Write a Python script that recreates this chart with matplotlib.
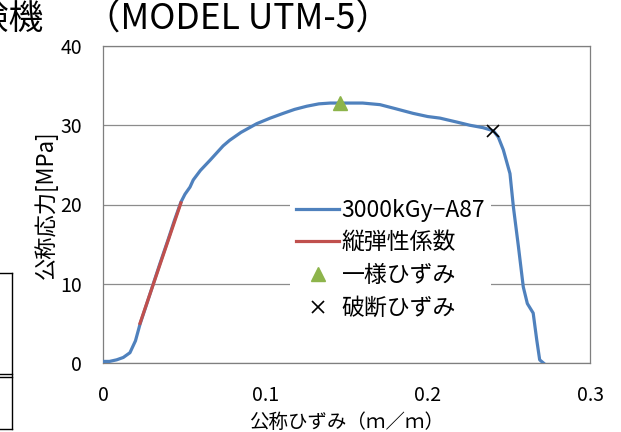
import matplotlib.pyplot as plt
from matplotlib.lines import Line2D

plt.rcParams['font.family'] = ['Noto Sans CJK JP', 'DejaVu Sans']

# nominal strain / nominal stress curve
strain = [0, 0.004, 0.0084, 0.0125, 0.0166, 0.020, 0.0228, 0.027, 0.031, 0.035,
          0.040, 0.044, 0.048, 0.0505, 0.0536, 0.0556, 0.060, 0.066, 0.070, 0.074,
          0.078, 0.085, 0.0947, 0.103, 0.111, 0.118, 0.1255, 0.133, 0.140, 0.146,
          0.152, 0.160, 0.1706, 0.180, 0.191, 0.200, 0.2076, 0.2117, 0.218, 0.226,
          0.234, 0.2405, 0.2435, 0.2466, 0.2507, 0.2528, 0.2559, 0.2589, 0.2614,
          0.265, 0.2672, 0.269, 0.2713]
stress = [0.2, 0.2, 0.4, 0.7, 1.3, 2.8, 4.9, 7.5, 10.0, 12.5,
          15.5, 18.0, 20.3, 21.3, 22.2, 23.1, 24.3, 25.6, 26.5, 27.4,
          28.1, 29.1, 30.2, 30.9, 31.5, 32.0, 32.4, 32.7, 32.8, 32.8,
          32.8, 32.8, 32.6, 32.1, 31.5, 31.1, 30.9, 30.7, 30.4, 30.0,
          29.7, 29.3, 28.5, 26.9, 23.9, 19.7, 14.7, 9.6, 7.5,
          6.3, 2.9, 0.4, 0.0]

# elastic modulus fit segment
modulus_strain = [0.0228, 0.048]
modulus_stress = [5.0, 20.2]

uniform_strain, uniform_stress = 0.146, 32.8
break_strain, break_stress = 0.2405, 29.3

x_ticks = [0, 0.1, 0.2, 0.3]
x_tick_labels = ['0', '0.1', '0.2', '0.3']
y_ticks = [0, 10, 20, 30, 40]

W, H = 621, 432
fig = plt.figure(figsize=(W / 100, H / 100), dpi=100)
ax = fig.add_axes([103 / W, 1 - 363 / H, 487 / W, 317 / H])

ax.plot(strain, stress, color='#4F81BD', lw=2.3, label='3000kGy\u2212A87', zorder=3)
ax.plot(modulus_strain, modulus_stress, color='#C0504D', lw=2.3, label='縦弾性係数', zorder=4)
ax.plot([uniform_strain], [uniform_stress], ls='none', marker='^', ms=10,
        color='#8DB44B', label='一様ひずみ', zorder=5)
ax.plot([break_strain], [break_stress], ls='none', marker='x', ms=9, mew=1.2,
        color='black', label='破断ひずみ', zorder=5)

ax.set_xlim(0, 0.3)
ax.set_ylim(0, 40)
ax.set_xticks(x_ticks)
ax.set_xticklabels(x_tick_labels)
ax.set_yticks(y_ticks)
ax.tick_params(length=0, labelsize=14)
ax.tick_params(axis='x', pad=16)
ax.tick_params(axis='y', pad=15)
ax.yaxis.grid(True, color='#8c8c8c', lw=0.9)
ax.set_axisbelow(True)
for s in ax.spines.values():
    s.set_color('#7f7f7f')
    s.set_linewidth(0.9)

ax.set_xlabel('公称ひずみ（ｍ／ｍ）', fontsize=14, labelpad=4)
ax.set_ylabel('公称応力[MPa]', fontsize=16, labelpad=2)

leg = ax.legend(loc='upper left', bbox_to_anchor=(290 / W, 1 - 193 / H),
                bbox_transform=fig.transFigure, fontsize=16.5, frameon=True,
                edgecolor='none', facecolor='white', framealpha=1, fancybox=False,
                handlelength=1.9, handletextpad=0.1, labelspacing=0.42,
                borderpad=0.25, borderaxespad=0)

# slide text around the chart
fig.text(44 / W, 1 - 29 / H, '試験機', fontsize=25, ha='right', va='baseline')
fig.text(85 / W, 1 - 29 / H, '（MODEL UTM-5）', fontsize=25.5, ha='left', va='baseline')

# edge of the neighbouring table
lk = dict(color='black', lw=1.0, transform=fig.transFigure)
fig.add_artist(Line2D([0, 11.5 / W], [1 - 272.5 / H, 1 - 272.5 / H], **lk))
fig.add_artist(Line2D([11.5 / W, 11.5 / W], [1 - 272.5 / H, 1 - 429 / H], **lk))
fig.add_artist(Line2D([0, 11.5 / W], [1 - 374 / H, 1 - 374 / H], **lk))
fig.add_artist(Line2D([0, 11.5 / W], [1 - 377 / H, 1 - 377 / H], **lk))
fig.add_artist(Line2D([0, 11.5 / W], [1 - 429 / H, 1 - 429 / H], **lk))

fig.savefig('out.png', dpi=100)
